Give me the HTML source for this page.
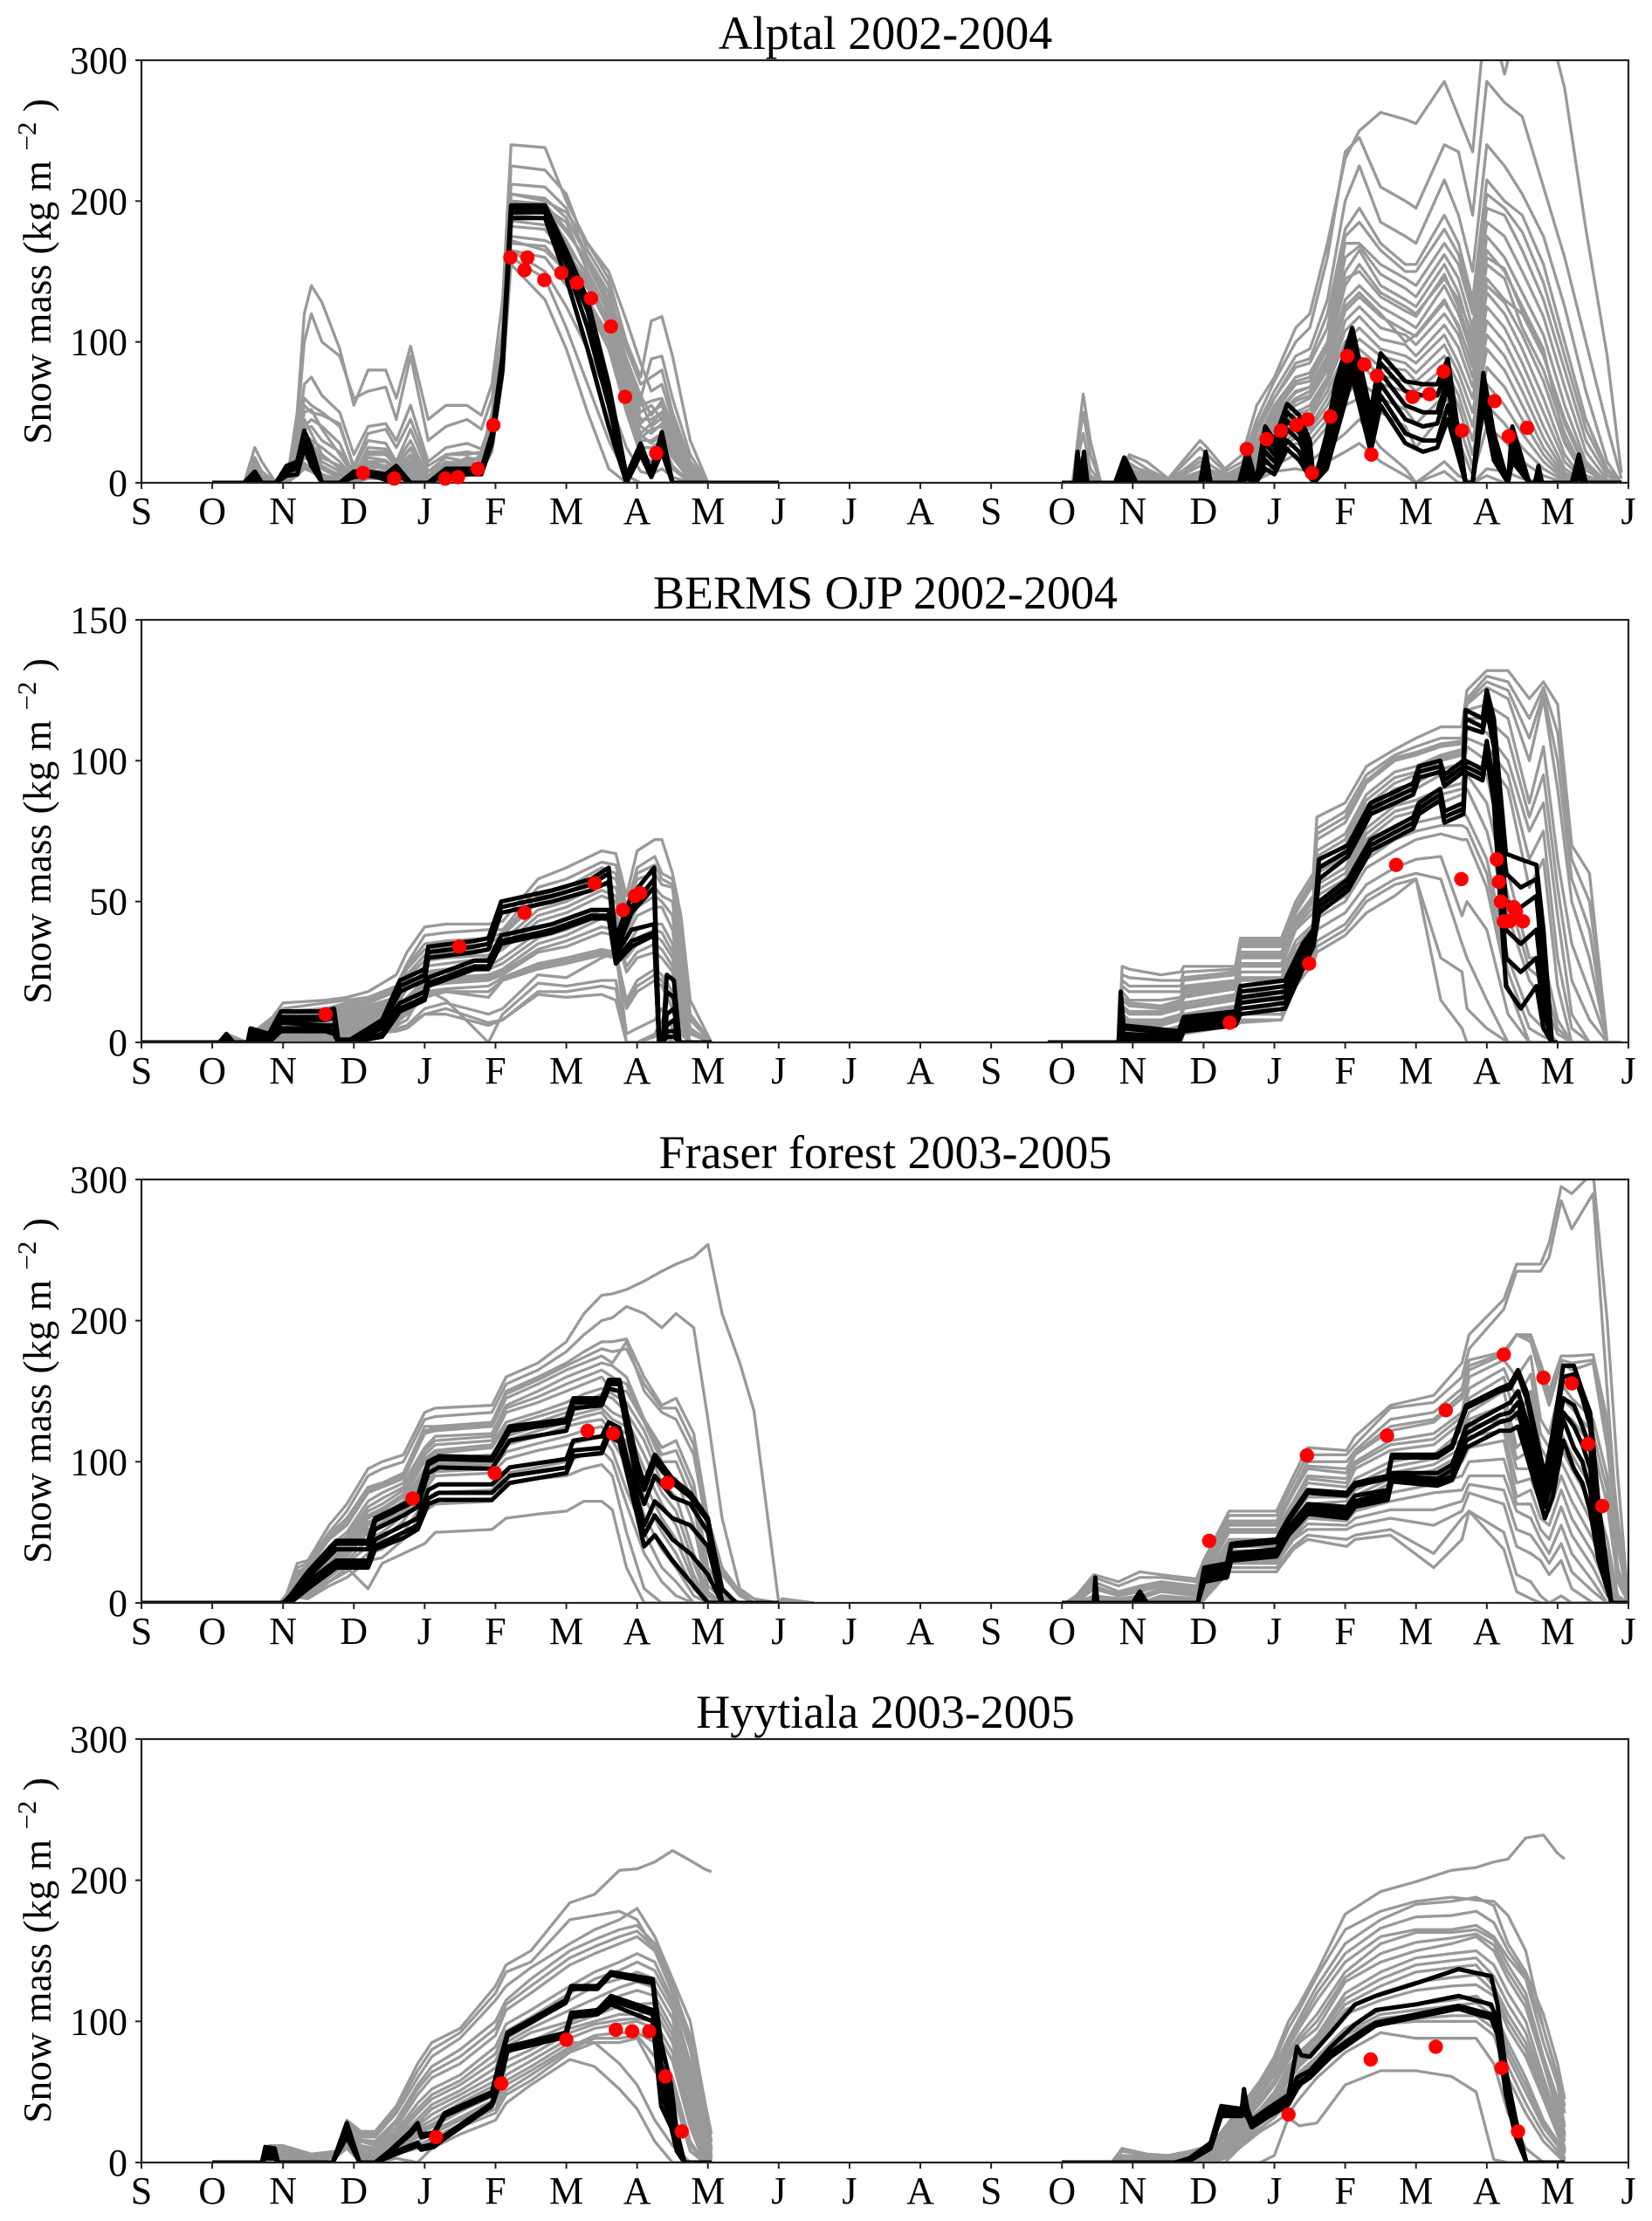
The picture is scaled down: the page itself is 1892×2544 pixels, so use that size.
<!DOCTYPE html>
<html lang="en">
<head>
<meta charset="utf-8">
<title>Snow mass ensemble simulations</title>
<style>
html,body{margin:0;padding:0;background:#fff;}
svg{display:block;}
text{font-family:"Liberation Serif",serif;fill:#000;}
.title{font-size:54px;text-anchor:middle;}
.ylab{font-size:45.5px;text-anchor:middle;}
.tick{font-size:44px;}
.g{fill:none;stroke:#999;stroke-width:3.3;stroke-linejoin:round;}
.b{fill:none;stroke:#000;stroke-width:5;stroke-linejoin:round;}
</style>
</head>
<body>
<svg id="chart" xmlns="http://www.w3.org/2000/svg" width="1892" height="2544" viewBox="0 0 1892 2544">
<rect width="1892" height="2544" fill="#fff"/>
<defs>
<clipPath id="clip0"><rect x="162" y="69" width="1703" height="484"/></clipPath>
<clipPath id="clip1"><rect x="162" y="710" width="1703" height="484"/></clipPath>
<clipPath id="clip2"><rect x="162" y="1351" width="1703" height="485"/></clipPath>
<clipPath id="clip3"><rect x="162" y="1992" width="1703" height="485"/></clipPath>
</defs>
<g id="panel0">
<text class="title" x="1014" y="56">Alptal 2002-2004</text>
<text class="ylab" transform="translate(58,311) rotate(-90)">Snow mass (kg m <tspan font-size="31" dy="-17">−2</tspan><tspan dy="17"> )</tspan></text>
</g>
<g id="panel1">
<text class="title" x="1014" y="697">BERMS OJP 2002-2004</text>
<text class="ylab" transform="translate(58,952) rotate(-90)">Snow mass (kg m <tspan font-size="31" dy="-17">−2</tspan><tspan dy="17"> )</tspan></text>
</g>
<g id="panel2">
<text class="title" x="1014" y="1338">Fraser forest 2003-2005</text>
<text class="ylab" transform="translate(58,1593) rotate(-90)">Snow mass (kg m <tspan font-size="31" dy="-17">−2</tspan><tspan dy="17"> )</tspan></text>
</g>
<g id="panel3">
<text class="title" x="1014" y="1979">Hyytiala 2003-2005</text>
<text class="ylab" transform="translate(58,2234) rotate(-90)">Snow mass (kg m <tspan font-size="31" dy="-17">−2</tspan><tspan dy="17"> )</tspan></text>
</g>
</svg>
<script>
const monthLabels=["S","O","N","D","J","F","M","A","M","J","J","A","S","O","N","D","J","F","M","A","M","J"];
const alptalTicks=[0,100,200,300];
const bermsTicks=[0,50,100,150];
const fraserTicks=[0,100,200,300];
const hyytialaTicks=[0,100,200,300];

/* ---------- Alptal ---------- */
const alptalW1Months=[1,1.45,1.6,1.7,1.9,2.05,2.2,2.3,2.4,2.55,2.8,3.0,3.2,3.45,3.6,3.8,4.05,4.3,4.6,4.8,4.95,5.1,5.22,5.7,6.0,6.3,6.6,6.85,7.05,7.2,7.35,7.5,7.75,8.0,9];
const alptalW1Gray=[
[0,0,25,15,0,0,50,120,140,128,95,55,80,80,60,97,45,55,55,48,70,130,240,238,200,170,145,100,75,115,118,90,30,0,0],
[0,0,18,8,0,0,40,100,120,100,90,60,65,68,45,90,30,40,45,38,60,110,225,222,205,165,140,85,60,88,90,60,20,0,0],
[0,0,12,3,0,0,30,60,55,50,40,12,35,38,25,45,12,20,22,20,50,100,205,202,188,160,130,80,55,58,60,40,10,0,0],
[0,0,5,0,0,0,25,55,50,48,42,10,30,28,15,38,8,18,15,18,42,95,200,198,180,155,125,75,45,45,50,35,5,0,0],
[0,0,0,0,0,0,20,40,45,40,28,5,25,24,12,25,5,15,12,20,38,90,198,195,185,150,120,70,40,35,42,28,3,0,0],
[0,0,0,0,0,0,15,35,30,25,15,3,18,16,10,20,2,14,14,18,35,85,195,192,172,145,115,60,30,30,35,20,0,0,0],
[0,0,0,0,0,5,15,30,25,15,8,0,12,10,5,12,0,10,10,15,30,80,170,168,150,130,105,55,25,25,30,12,0,0,0],
[0,0,0,0,0,3,10,25,20,10,3,0,8,8,3,8,0,8,10,12,28,80,165,160,140,125,95,50,20,15,25,10,0,0,0],
[0,0,0,0,0,0,8,18,15,6,0,0,5,5,0,4,0,5,8,10,22,75,155,130,95,50,10,0,0,0,0,0,0,0,0],
[0,0,0,0,0,0,5,10,8,3,0,0,3,3,0,2,0,3,5,8,22,78,160,145,110,70,30,5,0,0,0,0,0,0,0],
[0,0,0,0,0,0,22,50,52,38,20,5,22,22,14,30,4,20,20,22,45,100,200,198,170,130,100,60,35,42,50,28,8,0,0],
[0,0,0,0,0,0,12,28,22,12,5,0,10,12,6,15,0,12,12,15,32,88,190,188,165,140,110,65,32,38,40,22,5,0,0],
[0,0,0,0,0,0,18,45,35,20,10,2,15,15,8,18,2,10,18,16,36,92,175,172,165,142,112,72,42,50,55,32,5,0,0],
[0,0,0,0,0,0,10,22,12,5,2,0,6,6,2,5,0,6,8,12,25,82,182,180,160,138,118,78,50,55,45,25,3,0,0],
[0,0,15,5,0,0,28,70,75,62,50,20,40,42,30,55,15,25,28,24,45,105,212,210,195,160,135,95,70,75,80,50,15,0,0],
[0,0,8,2,0,2,18,38,40,30,22,8,20,20,12,24,4,14,16,18,40,95,205,200,192,170,150,115,85,65,70,45,12,0,0],
[0,0,3,0,0,0,14,30,28,18,12,3,14,12,8,14,2,12,12,15,34,90,198,196,178,158,128,88,62,48,58,34,6,0,0],
[0,0,2,0,0,0,9,20,18,10,6,1,9,8,4,10,0,8,10,14,30,85,186,183,168,148,122,82,58,40,46,26,4,0,0],
[0,0,0,0,0,0,7,14,10,6,2,0,5,5,2,6,0,6,8,12,26,82,172,165,150,128,100,62,34,28,34,18,2,0,0],
[0,0,0,0,0,0,6,12,8,4,0,0,4,4,1,4,0,4,6,10,24,80,165,150,125,95,60,25,8,6,10,4,0,0,0]
];
const alptalW1Black=[
[0,0,8,0,0,12,15,37,25,0,0,8,8,6,12,0,0,10,10,10,35,90,197,197,165,130,70,5,28,8,36,0,0,0,0],
[0,0,4,0,0,8,10,30,20,0,0,6,7,4,10,0,0,8,8,8,30,85,192,192,155,110,55,0,25,6,28,0,0,0,0],
[0,0,2,0,0,5,6,25,12,0,0,4,5,3,8,0,0,6,6,6,28,80,188,188,145,95,40,0,20,4,22,0,0,0,0],
[0,0,6,0,0,10,12,33,18,0,0,5,6,2,6,0,0,9,9,9,32,88,195,195,160,122,62,0,24,7,30,0,0,0,0]
];
const alptalW2Months=[13,13.15,13.3,13.4,13.55,13.8,13.95,14.2,14.5,14.95,15.05,15.3,15.55,15.75,16.0,16.3,16.5,16.75,17.0,17.2,17.5,17.85,18.0,18.4,18.6,18.8,19.0,19.25,19.5,19.8,20.1,20.4,20.7,20.9];
const alptalW2Gray=[
[0,0,63,30,0,0,20,15,3,30,25,10,20,55,75,110,120,170,230,250,263,258,255,285,260,235,340,290,340,340,280,180,90,7],
[0,0,50,20,0,0,18,10,2,25,20,8,15,45,72,100,110,160,235,245,210,200,195,240,235,190,285,270,260,210,160,100,40,3],
[0,0,35,10,0,0,14,6,0,15,10,5,12,40,65,90,95,130,200,225,185,175,170,215,190,150,240,225,205,175,125,65,15,0],
[0,0,12,3,0,0,10,5,0,12,8,3,10,38,60,85,88,120,180,195,170,155,155,190,170,130,215,200,190,155,100,45,10,0],
[0,0,8,0,0,0,8,3,0,8,5,2,8,30,55,75,78,100,170,170,155,145,140,170,155,120,195,190,165,130,80,30,5,0],
[0,0,5,0,0,0,5,2,0,5,3,0,5,28,50,70,72,95,150,165,140,130,125,155,135,100,175,160,135,105,55,15,0,0],
[0,0,3,0,0,0,3,0,0,3,2,0,4,25,45,60,65,85,130,140,125,115,110,140,120,90,155,145,110,80,35,5,0,0],
[0,0,0,0,0,0,2,0,0,0,0,0,3,22,40,50,55,75,115,125,110,105,98,120,105,75,135,120,95,60,20,0,0,0],
[0,0,0,0,0,0,0,0,0,0,0,0,2,20,35,45,48,70,100,110,95,90,85,105,85,60,115,100,75,40,10,0,0,0],
[0,0,0,0,0,0,0,0,0,0,0,0,0,15,30,40,40,60,85,95,82,80,72,90,70,40,95,80,55,25,5,0,0,0],
[0,0,0,0,0,0,0,0,0,0,0,0,0,10,25,35,35,50,70,85,70,65,58,75,55,20,70,55,35,15,2,0,0,0],
[0,0,0,0,0,0,0,0,0,0,0,0,0,5,20,28,25,40,55,60,50,40,25,50,30,5,40,30,15,5,0,0,0,0],
[0,0,0,0,0,0,0,0,0,0,0,0,0,3,12,20,15,25,35,45,25,10,0,15,5,0,10,8,3,0,0,0,0,0],
[0,0,0,0,0,0,0,0,0,0,0,0,0,2,8,10,8,15,22,28,15,5,0,8,0,0,5,0,0,0,0,0,0,0],
[0,0,3,0,0,0,6,0,0,3,0,0,0,18,42,55,60,80,125,135,120,100,105,130,110,85,145,130,120,90,45,12,0,0],
[0,0,0,0,0,0,4,0,0,6,2,0,6,25,48,65,68,90,140,155,135,125,120,145,130,105,165,150,125,95,30,3,0,0],
[0,0,20,5,0,0,12,8,1,18,14,6,10,35,60,82,85,110,175,185,165,150,150,180,162,125,205,195,178,142,90,38,8,0],
[0,0,4,0,0,0,7,3,0,6,4,1,7,28,52,72,75,98,160,168,148,138,132,162,145,110,185,175,150,118,68,22,2,0],
[0,0,2,0,0,0,4,1,0,4,2,0,5,26,47,64,68,88,145,150,132,122,118,148,125,95,160,152,122,92,42,9,0,0],
[0,0,0,0,0,0,2,0,0,2,0,0,3,24,43,58,62,82,122,132,118,108,104,128,112,82,140,128,105,72,28,3,0,0],
[0,0,0,0,0,0,1,0,0,0,0,0,2,21,38,48,52,72,108,118,102,98,90,112,96,68,125,110,85,50,15,0,0,0],
[0,0,0,0,0,0,0,0,0,0,0,0,1,18,33,42,45,65,92,102,90,85,78,98,78,50,105,90,65,32,7,0,0,0],
[0,0,0,0,0,0,0,0,0,0,0,0,0,12,28,38,38,55,78,90,76,72,65,82,62,30,82,68,45,20,3,0,0,0],
[0,0,0,0,0,0,0,0,0,0,0,0,0,8,22,32,30,45,62,72,60,52,42,62,42,12,55,42,25,10,1,0,0,0]
];
const alptalW2BlackMonths=[13,13.18,13.22,13.27,13.31,13.36,13.75,13.88,14.05,14.95,15.03,15.1,15.5,15.62,15.74,15.87,16,16.18,16.35,16.5,16.56,16.74,16.86,17.1,17.36,17.5,17.85,18.1,18.3,18.45,18.7,18.8,18.95,19.1,19.3,19.36,19.6,19.68,19.73,19.78,20.2,20.3,20.4,20.9];
const alptalW2Black=[
[0,0,22,0,22,0,0,18,0,0,22,0,0,23,0,40,30,56,48,30,0,35,70,110,50,92,72,70,70,88,0,0,78,35,0,40,0,0,12,0,0,20,0,0],
[0,0,18,0,18,0,0,14,0,0,18,0,0,18,0,35,25,50,42,25,0,30,62,105,40,85,65,62,62,82,0,0,74,30,0,36,0,0,9,0,0,16,0,0],
[0,0,14,0,14,0,0,10,0,0,14,0,0,14,0,28,20,44,36,18,0,25,55,98,36,78,55,50,50,75,0,0,70,28,0,30,0,0,7,0,0,12,0,0],
[0,0,10,0,10,0,0,7,0,0,10,0,0,10,0,22,15,38,30,12,0,20,48,90,30,70,45,40,42,68,0,0,66,24,0,26,0,0,5,0,0,10,0,0],
[0,0,6,0,6,0,0,4,0,0,6,0,0,6,0,16,10,30,22,8,0,15,40,82,26,62,35,30,30,55,0,0,60,20,0,20,0,0,3,0,0,6,0,0],
[0,0,3,0,3,0,0,2,0,0,3,0,0,3,0,10,6,24,16,4,0,10,32,75,22,55,28,22,25,45,0,0,55,16,0,15,0,0,2,0,0,3,0,0]
];
const alptalObsMonths=[3.13,3.57,4.29,4.47,4.75,4.97,5.21,5.45,5.41,5.69,5.93,6.15,6.35,6.63,6.83,7.27,15.61,15.89,16.09,16.31,16.47,16.53,16.79,17.03,17.27,17.45,17.37,17.95,18.19,18.39,18.65,19.11,19.31,19.57];
const alptalObsMass=[7,3,3,4,10,41,160,160,151,144,149,142,131,111,61,21,24,31,37,41,45,7,47,90,84,76,20,61,63,79,37,58,33,39];

/* ---------- BERMS OJP ---------- */
const bermsW1Months=[0,1.1,1.2,1.5,1.55,1.85,2,2.6,2.9,3.2,3.6,3.75,4,4.3,4.9,5.1,5.6,6,6.5,6.7,6.85,7,7.25,7.35,7.5,7.62,7.75,8.05];
const bermsW1Gray=[
[0,0,3,0,3,9,14,15,16,18,24,32,41,42,42,43,58,62,68,67,52,68,72,72,60,45,15,0],
[0,0,2,0,2,8,12,14,15,16,20,28,38,39,40,40,55,58,64,63,48,62,66,60,58,40,10,0],
[0,0,0,0,0,7,11,12,13,14,18,26,33,34,35,38,50,53,60,58,46,58,60,56,55,30,8,0],
[0,0,0,0,0,6,10,11,12,13,16,24,31,32,33,36,47,50,56,55,42,52,55,52,50,25,5,0],
[0,0,0,0,0,4,8,9,10,12,15,22,27,28,30,33,43,46,52,50,38,45,48,48,40,20,3,0],
[0,0,0,0,0,3,6,8,9,11,14,20,25,26,27,30,39,42,47,46,34,40,42,42,35,15,0,0],
[0,0,0,0,0,2,5,7,8,9,12,16,22,23,24,26,35,38,44,42,30,35,38,36,30,10,0,0],
[0,0,0,0,0,1,4,5,6,7,10,14,20,21,22,24,32,34,39,38,25,30,32,30,25,8,0,0],
[0,0,0,0,0,0,3,4,5,6,9,12,18,19,20,23,28,30,33,32,15,22,26,24,18,5,0,0],
[0,0,0,0,0,0,2,3,4,5,7,10,16,18,16,22,26,28,31,30,12,18,22,20,12,0,0,0],
[0,0,0,0,0,0,1,3,4,5,6,8,19,15,0,10,21,20,22,22,0,0,3,8,0,0,0,0],
[0,0,0,0,0,0,1,2,3,4,5,6,10,12,7,8,18,18,20,19,0,0,2,3,0,0,0,0],
[0,0,0,0,0,0,0,1,2,3,4,5,10,10,6,8,17,16,17,15,0,0,0,0,0,0,0,0],
[0,0,0,0,0,0,0,0,2,3,4,6,12,14,10,12,24,23,30,32,3,5,8,12,5,0,0,0],
[0,0,1,0,1,7,11,12,14,15,19,27,35,36,37,39,52,55,62,60,47,60,63,58,56,35,9,0],
[0,0,0,0,0,5,9,10,11,12,15,23,29,30,31,34,45,48,54,52,40,48,52,50,45,22,4,0],
[0,0,0,0,0,3,7,8,9,10,13,19,24,25,26,28,37,40,45,44,32,37,40,39,32,12,0,0],
[0,0,0,0,0,2,4,6,7,8,11,15,21,22,23,25,33,36,41,40,27,32,35,33,27,9,0,0],
[0,0,0,0,0,0,2,3,4,5,8,11,17,18,18,22,27,29,32,31,13,20,24,22,15,3,0,0]
];
const bermsW1BlackMonths=[0,1.1,1.2,1.3,1.5,1.54,1.8,1.97,2.6,2.72,2.78,2.95,3.4,3.65,4.0,4.05,4.7,4.9,5.08,5.8,6.35,6.6,6.7,6.92,7.24,7.31,7.36,7.42,7.52,7.6,8.05];
const bermsW1Black=[
[0,0,3,0,0,5,3,11,11,12,1,1,8,22,26,34,36,37,50,54,58,62,37,52,62,0,0,24,22,0,0],
[0,0,2,0,0,4,2,9,9,10,0,0,7,20,24,32,34,35,48,52,56,60,34,48,58,0,0,18,16,0,0],
[0,0,0,0,0,3,1,8,8,9,0,0,6,18,22,30,32,33,46,50,54,57,32,46,55,0,0,10,12,0,0],
[0,0,2,0,0,3,1,7,6,6,0,0,5,14,18,23,29,29,38,42,47,47,31,40,42,0,0,6,8,0,0],
[0,0,0,0,0,2,0,5,5,4,0,0,3,12,16,21,27,27,36,40,45,45,29,36,39,0,0,4,4,0,0],
[0,0,0,0,0,1,0,4,4,3,0,0,2,11,15,20,26,26,35,39,44,44,28,34,38,0,0,2,2,0,0]
];
const bermsW2Months=[12.8,13.8,13.85,13.95,14.4,14.68,14.72,15.45,15.52,16.1,16.3,16.55,16.6,17.0,17.3,17.7,18.0,18.35,18.65,18.72,19.0,19.3,19.6,19.8,20.0,20.2,20.45,20.7,20.9];
const bermsW2Gray=[
[0,0,27,26,24,25,27,27,37,37,50,60,80,85,98,104,108,112,112,125,132,132,122,128,120,70,60,0,0],
[0,0,24,23,22,22,25,26,36,36,48,58,76,82,95,102,105,108,108,122,130,128,115,126,110,65,50,0,0],
[0,0,20,18,18,18,22,24,34,34,46,56,72,78,92,100,102,105,106,120,126,122,100,122,90,50,30,0,0],
[0,0,18,15,15,16,20,22,32,32,44,52,68,74,88,96,98,102,104,118,120,115,85,105,65,35,18,0,0],
[0,0,15,13,12,14,18,20,30,30,42,50,64,70,84,92,95,100,102,112,110,100,75,85,45,10,0,0,0],
[0,0,12,10,10,12,16,19,27,27,40,46,60,66,80,88,90,95,96,105,100,90,55,65,20,0,0,0,0],
[0,0,10,8,8,10,14,17,25,25,36,42,56,62,76,84,86,90,92,100,95,60,30,30,8,0,0,0,0],
[0,0,8,6,6,8,12,15,22,22,32,40,52,58,72,80,82,85,88,90,75,45,22,15,3,0,0,0,0],
[0,0,6,4,4,6,10,13,18,18,28,38,48,54,68,75,78,80,82,80,65,30,10,5,0,0,0,0,0],
[0,0,4,2,2,5,8,12,15,15,26,36,44,50,62,68,72,74,72,72,55,20,0,0,0,0,0,0,0],
[0,0,3,1,1,3,6,10,12,12,24,34,40,46,56,62,65,66,45,50,40,10,0,0,0,0,0,0,0],
[0,0,2,0,0,2,5,8,10,10,22,32,36,42,52,58,60,58,35,30,15,0,0,0,0,0,0,0,0],
[0,0,1,0,0,1,4,7,8,8,22,30,34,40,50,56,58,30,25,12,5,0,0,0,0,0,0,0,0],
[0,0,0,0,0,0,3,6,7,8,20,28,32,38,46,52,58,15,5,0,0,0,0,0,0,0,0,0,0],
[0,0,22,20,20,20,23,25,35,35,47,57,74,80,93,101,103,106,107,121,128,125,108,124,100,58,40,0,0],
[0,0,16,14,13,15,19,21,31,31,43,51,66,72,86,94,96,101,103,115,115,108,80,95,55,22,8,0,0],
[0,0,13,11,11,13,17,19,28,28,41,48,62,68,82,90,92,97,99,108,105,95,65,75,30,5,0,0,0],
[0,0,9,7,7,9,13,16,23,23,34,41,54,60,74,82,84,88,90,95,85,52,26,22,5,0,0,0,0],
[0,0,5,3,3,5,9,12,16,16,27,37,46,52,65,72,75,77,77,76,60,25,5,2,0,0,0,0,0]
];
const bermsW2BlackMonths=[12.8,13.8,13.83,13.87,14.65,14.72,15.45,15.52,16.15,16.4,16.55,16.63,17.04,17.36,17.96,18.04,18.34,18.4,18.67,18.7,18.94,19,19.1,19.27,19.48,19.7,19.8,19.92,20.0];
const bermsW2Black=[
[0,0,18,6,4,9,11,20,22,35,40,65,70,85,92,98,100,95,100,118,115,125,115,67,65,63,40,0,0],
[0,0,12,5,3,8,10,18,20,33,38,62,68,83,90,96,98,93,98,115,112,122,110,60,55,58,35,0,0],
[0,0,8,3,2,7,9,16,18,31,37,58,66,81,88,94,96,91,96,112,110,118,105,50,48,52,25,0,0],
[0,0,6,2,1,6,8,14,16,30,37,50,58,72,80,85,90,82,85,100,97,107,92,40,35,40,18,0,0],
[0,0,4,1,0,5,7,12,14,28,35,48,56,70,78,83,88,80,83,98,95,104,88,30,25,30,12,0,0],
[0,0,2,0,0,4,6,10,12,26,34,46,54,68,76,81,86,78,81,96,93,102,85,20,12,20,5,0,0]
];
const bermsObsMonths=[2.6,4.49,5.41,6.4,6.8,6.97,7.04,15.37,16.49,17.72,18.64,19.14,19.17,19.2,19.24,19.38,19.41,19.32,19.51];
const bermsObsMass=[10,34,46,56.5,47,52,53,7,28,63,58,65,57,50,43,48,46.5,43,43];

/* ---------- Fraser forest ---------- */
const fraserW1Months=[0,1.95,2.05,2.2,2.35,2.65,2.9,3.2,3.4,3.7,4.0,4.15,4.95,5.15,5.6,6.0,6.25,6.5,6.65,6.85,7.1,7.35,7.55,7.8,8.0,8.2,8.45,8.65,9.0,9.05,9.5];
const fraserW1Gray=[
[0,0,6,28,30,55,70,95,100,105,135,138,140,160,170,185,205,218,219,222,228,235,240,245,254,205,170,136,0,3,0],
[0,0,5,25,28,50,65,90,95,100,130,132,135,155,165,178,190,200,202,210,205,195,205,195,130,60,10,3,0,2,0],
[0,0,4,22,26,48,60,82,85,92,125,125,128,150,160,170,178,185,185,187,160,140,145,120,60,25,8,0,0,0,0],
[0,0,3,20,24,45,55,78,82,88,120,122,125,145,155,165,170,175,170,185,150,135,130,105,50,20,5,0,0,0,0],
[0,0,2,18,22,40,50,72,78,85,110,118,120,140,150,160,165,170,168,160,130,110,115,85,25,8,0,0,0,0,0],
[0,0,1,15,20,35,45,65,70,80,105,112,115,135,142,150,155,160,150,150,128,100,100,70,12,3,0,0,0,0,0],
[0,0,0,12,15,30,42,60,65,75,100,106,110,125,132,138,142,148,145,135,115,85,75,35,5,0,0,0,0,0,0],
[0,0,0,10,12,25,38,55,60,70,92,100,102,118,125,132,135,138,130,125,95,70,55,20,0,0,0,0,0,0,0],
[0,0,0,8,8,22,33,50,55,65,88,96,98,112,118,125,128,130,120,115,75,50,35,10,0,0,0,0,0,0,0],
[0,0,0,6,6,18,28,40,45,58,80,90,92,102,108,112,115,118,108,80,50,25,15,0,0,0,0,0,0,0,0],
[0,0,0,5,4,15,22,35,38,50,72,78,80,92,96,100,105,108,100,70,35,15,5,0,0,0,0,0,0,0,0],
[0,0,0,4,3,12,18,30,32,45,65,70,72,85,88,90,95,98,90,50,10,0,0,0,0,0,0,0,0,0,0],
[0,0,0,3,10,15,25,10,28,35,42,50,52,60,63,65,72,72,66,25,0,0,0,0,0,0,0,0,0,0,0],
[0,0,3,21,25,46,57,80,84,90,122,124,126,148,158,168,174,180,178,180,155,138,138,112,55,22,6,0,0,0,0],
[0,0,1,16,21,38,47,68,74,82,108,115,118,138,146,155,160,165,160,155,130,105,108,78,18,5,0,0,0,0,0],
[0,0,0,13,17,32,43,62,67,77,102,108,112,128,135,142,148,152,148,142,122,92,88,55,8,0,0,0,0,0,0],
[0,0,0,11,14,27,40,57,62,72,95,102,105,120,128,135,138,142,135,130,105,78,65,28,2,0,0,0,0,0,0],
[0,0,0,9,10,24,35,52,57,68,90,98,100,115,122,128,132,135,125,120,85,60,45,15,0,0,0,0,0,0,0],
[0,0,0,7,7,20,30,45,50,62,84,93,95,107,113,118,122,125,115,98,62,38,25,5,0,0,0,0,0,0,0]
];
const fraserW1BlackMonths=[0,2.0,2.1,2.35,2.75,3.2,3.3,3.7,3.9,4.05,4.2,4.95,5.2,6.0,6.1,6.5,6.6,6.75,7.0,7.1,7.25,7.5,7.75,8.0,8.2,8.4,9];
const fraserW1Black=[
[0,0,5,22,44,44,60,70,75,100,104,103,125,130,145,145,158,158,100,85,105,88,78,60,0,0,0],
[0,0,4,20,42,42,58,68,73,98,102,101,122,128,142,142,155,155,95,80,100,85,75,58,10,0,0],
[0,0,3,18,38,38,52,62,68,92,96,95,115,122,138,140,152,150,85,70,90,75,70,50,0,0,0],
[0,0,2,15,30,30,45,55,60,80,84,84,96,102,115,118,128,124,75,55,72,60,55,40,0,0,0],
[0,0,1,12,27,27,40,50,55,74,78,78,90,96,108,110,122,118,68,48,62,45,35,20,0,0,0],
[0,0,0,10,25,25,38,46,52,70,73,73,85,92,104,106,118,114,62,40,48,30,15,0,0,0,0]
];
const fraserW2Months=[13.05,13.2,13.45,13.8,14.1,14.4,14.9,15.0,15.36,16.03,16.27,16.47,17.02,17.14,17.64,18.25,18.65,18.75,19.24,19.42,19.62,19.76,19.88,20.05,20.2,20.5,20.7,20.85,21];
const fraserW2Gray=[
[0,5,20,15,22,20,17,30,65,65,90,110,108,118,140,147,170,190,215,240,240,240,255,295,290,305,200,90,0],
[0,3,18,12,18,18,15,28,62,62,85,105,105,112,138,142,160,180,208,235,235,235,245,285,265,290,150,50,0],
[0,2,15,8,12,15,12,25,58,58,80,100,100,108,130,135,152,172,178,190,190,170,150,175,175,176,130,60,0],
[0,0,10,5,8,12,10,22,55,55,78,95,92,105,122,128,145,165,176,190,185,160,140,170,165,170,110,40,0],
[0,0,5,3,5,10,8,20,52,52,72,90,88,100,115,120,135,160,172,160,175,130,120,155,145,130,90,25,0],
[0,0,3,0,3,8,5,18,50,50,70,85,82,95,108,112,128,145,160,130,150,110,100,135,130,110,70,15,0],
[0,0,0,0,0,5,3,15,45,45,65,80,78,88,100,105,122,135,150,110,120,100,85,120,105,80,45,5,0],
[0,0,0,0,0,3,2,12,40,40,60,70,72,80,92,98,110,125,130,95,95,80,75,100,85,55,25,0,0],
[0,0,0,0,0,0,0,10,35,35,55,65,65,72,85,90,100,110,115,75,80,60,55,80,60,35,10,0,0],
[0,0,0,0,0,0,0,8,32,32,48,60,58,65,72,78,80,90,90,65,60,45,35,55,35,15,0,0,0],
[0,0,0,0,0,0,0,5,28,28,45,52,52,55,60,55,65,78,70,40,35,30,20,30,10,0,0,0,0],
[0,0,0,0,0,0,0,3,25,25,40,48,45,48,52,35,60,65,50,20,15,5,0,5,0,0,0,0,0],
[0,0,0,0,0,0,0,2,22,22,38,45,40,45,48,25,45,65,38,8,3,0,0,0,0,0,0,0,0],
[0,1,12,6,10,13,11,23,56,56,79,97,95,106,125,130,148,168,177,190,188,165,145,172,170,172,120,50,0],
[0,0,4,2,4,9,6,19,51,51,71,88,85,98,112,116,132,152,166,145,162,120,110,145,138,120,80,20,0],
[0,0,0,0,0,4,2,14,42,42,62,75,75,84,96,102,116,130,140,102,108,90,80,110,95,68,35,3,0],
[0,0,0,0,0,1,1,11,37,37,58,68,68,76,88,94,105,118,122,85,88,70,65,90,72,45,18,0,0],
[0,0,0,0,0,0,0,9,33,33,52,62,62,68,78,84,90,100,102,70,70,52,45,68,48,25,5,0,0],
[0,0,0,0,0,0,0,6,30,30,46,56,55,60,66,66,72,84,80,52,48,38,28,42,22,8,0,0,0]
];
const fraserW2BlackMonths=[13,13.45,13.47,13.5,14.0,14.1,14.2,14.92,15.01,15.33,15.39,16.03,16.2,16.47,17.02,17.14,17.6,17.66,18.3,18.51,18.71,19.18,19.33,19.44,19.56,19.82,19.93,20.08,20.23,20.35,20.46,20.58,20.76,21];
const fraserW2Black=[
[0,0,18,0,0,8,0,0,25,28,42,45,60,80,78,85,90,105,105,112,140,152,155,165,150,90,120,168,168,150,135,70,0,0],
[0,0,12,0,0,6,0,0,24,26,40,43,58,78,76,83,88,103,103,110,138,150,152,162,145,85,115,160,162,145,125,60,0,0],
[0,0,5,0,0,3,0,0,22,24,35,38,53,70,68,76,80,92,92,98,125,138,142,150,130,78,100,145,140,125,110,50,0,0],
[0,0,2,0,0,1,0,0,20,22,33,36,51,67,65,72,78,90,88,94,120,133,135,142,122,72,95,135,125,112,95,45,0,0],
[0,0,0,0,0,0,0,0,18,20,32,35,50,65,62,70,75,88,85,90,115,128,130,135,115,68,88,130,110,100,80,40,0,0],
[0,0,0,0,0,0,0,0,15,18,30,33,48,63,60,68,73,86,83,87,110,122,122,125,105,60,75,115,95,85,65,30,0,0]
];
const fraserObsMonths=[3.83,4.99,6.3,6.66,7.43,15.08,16.46,17.59,18.42,19.24,19.8,20.2,20.43,20.63];
const fraserObsMass=[74,92,122,120,85,44,104.5,118.6,136.5,176,159.5,155.5,112.6,68.6];

/* ---------- Hyytiala ---------- */
const hyytialaW1Months=[1,1.75,1.8,2.0,2.4,2.75,2.9,3.1,3.3,3.6,3.9,4.1,4.5,5.0,5.15,5.5,6.05,6.4,6.75,7.0,7.25,7.5,7.75,7.95,8.05];
const hyytialaW1Gray=[
[0,0,10,10,5,8,30,22,22,40,70,85,95,125,140,150,184,190,207,208,213,221,214,208,206],
[0,0,12,12,6,8,28,20,20,38,65,80,92,120,135,142,172,175,178,172,150,125,90,40,15],
[0,0,11,10,5,8,27,18,18,35,60,75,88,115,125,138,155,165,172,180,160,130,100,45,20],
[0,0,10,9,5,8,26,16,15,30,55,68,80,100,115,130,150,158,165,168,155,128,85,40,10],
[0,0,9,8,4,7,25,15,12,25,48,60,70,90,108,120,140,148,155,160,150,120,80,30,8],
[0,0,8,7,4,7,24,12,10,22,42,52,62,82,98,108,125,135,142,148,142,115,70,25,5],
[0,0,7,6,3,6,22,10,8,18,35,45,55,72,88,98,115,125,130,135,130,108,55,18,3],
[0,0,6,5,3,6,20,8,5,14,28,38,48,62,82,92,100,108,118,122,118,95,45,12,0],
[0,0,5,4,2,6,18,5,3,12,24,30,42,55,72,80,95,100,105,105,108,85,35,5,0],
[0,0,4,3,2,5,16,3,2,10,20,25,36,48,62,72,88,95,98,100,95,72,25,0,0],
[0,0,3,2,1,5,14,2,0,8,15,20,30,42,55,65,82,90,92,92,85,60,15,0,0],
[0,0,2,1,0,5,12,0,0,6,10,15,25,35,48,58,78,85,85,88,65,50,8,0,0],
[0,0,1,0,0,4,10,0,0,3,0,10,20,30,42,55,73,68,52,38,15,0,0,0,0],
[0,0,5,3,2,5,17,3,0,8,18,22,32,45,58,68,85,85,70,55,30,12,0,0,0],
[0,0,9,8,5,7,26,15,14,28,52,64,75,95,112,125,145,153,160,164,152,124,82,35,9],
[0,0,7,6,4,6,23,11,9,20,38,48,58,77,93,103,120,130,136,142,136,112,62,22,4],
[0,0,5,5,3,6,21,9,6,16,31,41,51,67,85,95,108,116,124,128,124,102,50,15,2],
[0,0,4,4,2,5,19,6,4,13,26,34,45,58,77,86,98,104,111,112,113,90,40,8,0],
[0,0,3,3,2,5,17,4,2,11,22,27,39,52,67,76,92,98,101,102,100,78,30,3,0],
[0,0,2,2,1,5,13,1,0,7,12,17,27,38,51,62,80,88,88,90,75,55,12,0,0]
];
const hyytialaW1BlackMonths=[1,1.7,1.75,1.88,1.93,2.7,2.9,3.08,3.3,3.5,3.8,3.9,3.95,4.13,4.28,4.95,5.06,5.17,5.99,6.07,6.44,6.63,7.22,7.34,7.48,7.56,7.67,8.05];
const hyytialaW1Black=[
[0,0,11,10,0,0,28,0,0,8,22,28,20,21,35,50,72,92,115,125,125,135,130,85,55,22,0,0],
[0,0,8,8,0,0,25,0,0,7,20,26,18,20,33,48,68,90,113,123,123,133,127,70,45,18,0,0],
[0,0,6,6,0,0,23,0,0,6,12,14,11,13,19,42,60,82,92,106,108,118,108,60,35,15,0,0],
[0,0,4,5,0,0,20,0,0,5,11,13,10,12,18,41,58,80,90,104,106,115,105,50,30,12,0,0],
[0,0,3,3,0,0,18,0,0,4,10,12,9,11,17,40,56,79,89,103,105,112,100,40,25,8,0,0]
];
const hyytialaW2Months=[13,13.7,13.85,14.2,14.5,14.8,15.1,15.3,15.5,15.8,16.0,16.2,16.35,16.6,17.0,17.5,18.0,18.5,18.85,19.1,19.3,19.55,19.8,20.0,20.1];
const hyytialaW2Gray=[
[0,0,10,6,5,8,12,25,38,58,75,100,112,135,176,192,199,207,209,213,215,230,232,219,215],
[0,0,8,5,4,7,11,22,36,55,72,95,108,132,165,178,185,188,186,185,175,150,95,60,40],
[0,0,5,4,3,6,10,20,34,52,68,88,102,125,155,172,183,185,188,182,155,135,105,70,45],
[0,0,3,2,2,5,9,18,30,48,62,82,95,115,142,160,165,165,168,160,145,130,85,55,25],
[0,0,2,1,1,4,8,15,28,45,58,78,90,105,135,155,163,163,165,158,140,120,75,45,20],
[0,0,0,0,0,3,7,12,25,42,55,72,85,95,128,142,150,155,160,150,130,110,70,35,15],
[0,0,0,0,0,2,6,10,24,38,50,68,78,90,120,135,145,148,150,140,120,100,60,30,10],
[0,0,0,0,0,2,5,8,22,36,47,62,72,85,112,125,135,138,140,125,105,85,50,25,8],
[0,0,0,0,0,1,4,6,20,34,44,58,68,80,105,115,122,125,126,118,95,75,45,20,6],
[0,0,0,0,0,0,3,5,18,32,42,54,64,75,95,108,112,115,118,108,85,60,30,15,3],
[0,0,0,0,0,0,2,4,15,30,38,50,60,70,90,102,105,108,108,100,75,50,25,12,2],
[0,0,0,0,0,0,0,3,12,24,32,42,55,65,85,98,100,100,100,90,60,35,15,5,0],
[0,0,0,0,0,0,0,0,10,22,28,35,45,60,78,92,88,88,88,70,35,10,0,0,0],
[0,0,0,0,0,0,0,0,0,0,5,32,26,28,55,65,65,61,50,2,0,0,0,0,0],
[0,0,4,3,2,5,9,19,32,50,65,85,98,120,148,166,174,175,178,170,150,132,95,62,35],
[0,0,1,1,0,4,7,13,26,43,56,75,87,100,131,148,156,159,162,154,135,115,72,40,18],
[0,0,0,0,0,2,5,9,23,37,48,65,75,88,116,130,140,143,145,132,112,92,55,28,9],
[0,0,0,0,0,1,4,7,21,35,45,60,70,82,108,120,128,131,133,121,100,80,48,22,7],
[0,0,0,0,0,0,3,5,17,31,40,52,62,72,92,105,108,111,113,104,80,55,28,14,3],
[0,0,0,0,0,0,1,3,13,27,35,46,57,67,87,100,102,104,104,95,68,42,20,8,1]
];
const hyytialaW2BlackMonths=[13,14.6,14.8,15.1,15.25,15.54,15.57,15.62,15.68,15.9,16.2,16.32,16.38,16.5,16.8,17.14,17.43,18,18.6,19.06,19.15,19.27,19.41,19.56,20.1];
const hyytialaW2Black=[
[0,0,3,14,40,38,52,38,30,38,48,82,76,75,92,112,118,127,137,132,112,65,30,0,0],
[0,0,2,12,37,36,42,36,28,36,46,60,62,65,82,98,108,112,118,112,100,55,25,0,0],
[0,0,2,11,35,34,38,34,26,34,43,55,58,62,78,90,99,105,111,105,94,52,22,0,0],
[0,0,1,10,33,33,35,32,25,32,41,52,56,60,75,87,97,103,109,102,91,48,18,0,0]
];
const hyytialaObsMonths=[4.16,5.08,6.0,6.7,6.93,7.17,7.4,7.63,16.2,17.36,18.28,19.21,19.44];
const hyytialaObsMass=[18,56,87,94,93,93,61,22,34,73,82,67,22];

/* ---------- drawing ---------- */
const NS="http://www.w3.org/2000/svg";
const plotLeft=162, plotRight=1865, monthSpan=21;

function xScale(m){return plotLeft+(plotRight-plotLeft)*m/monthSpan;}
function yScaler(top,bottom,max){return function(v){return bottom-(bottom-top)*v/max;};}

function linePath(months,values,y){
  let d="";
  for(let i=0;i<values.length&&i<months.length;i++){
    d+=(i?"L":"M")+xScale(months[i]).toFixed(1)+" "+y(values[i]).toFixed(1);
  }
  return d;
}

function drawSeries(group,months,rows,y,cls,label){
  rows.forEach(function(values){
    const el=document.createElementNS(NS,"path");
    el.setAttribute("d",linePath(months,values,y));
    el.setAttribute("class",cls);
    
    
    group.appendChild(el);
  });
}

function drawObs(group,months,mass,y){
  months.forEach(function(m,i){
    const c=document.createElementNS(NS,"circle");
    c.setAttribute("cx",xScale(m).toFixed(1));
    c.setAttribute("cy",y(mass[i]).toFixed(1));
    c.setAttribute("r",8.2);
    c.setAttribute("fill","#f00");
    
    
    group.appendChild(c);
  });
}

function drawAxes(group,top,bottom,y,ticks){
  const frame=document.createElementNS(NS,"rect");
  frame.setAttribute("x",plotLeft);
  frame.setAttribute("y",top);
  frame.setAttribute("width",plotRight-plotLeft);
  frame.setAttribute("height",bottom-top);
  frame.setAttribute("fill","none");
  frame.setAttribute("stroke","#222");
  frame.setAttribute("stroke-width","2.2");
  
  
  group.appendChild(frame);
  monthLabels.forEach(function(lab,i){
    const t=document.createElementNS(NS,"line");
    t.setAttribute("x1",xScale(i));
    t.setAttribute("x2",xScale(i));
    t.setAttribute("y1",bottom);
    t.setAttribute("y2",bottom+7);
    t.setAttribute("stroke","#222");
    t.setAttribute("stroke-width","2");
    
    
    group.appendChild(t);
    const tx=document.createElementNS(NS,"text");
    tx.setAttribute("x",xScale(i));
    tx.setAttribute("y",bottom+47);
    tx.setAttribute("text-anchor","middle");
    tx.setAttribute("class","tick");
    
    
    tx.textContent=lab;
    group.appendChild(tx);
  });
  ticks.forEach(function(v){
    const t=document.createElementNS(NS,"line");
    t.setAttribute("x1",plotLeft-7);
    t.setAttribute("x2",plotLeft);
    t.setAttribute("y1",y(v));
    t.setAttribute("y2",y(v));
    t.setAttribute("stroke","#222");
    t.setAttribute("stroke-width","2");
    
    
    group.appendChild(t);
    const tx=document.createElementNS(NS,"text");
    tx.setAttribute("x",146);
    tx.setAttribute("y",y(v)+15);
    tx.setAttribute("text-anchor","end");
    tx.setAttribute("class","tick");
    
    
    tx.textContent=v;
    group.appendChild(tx);
  });
}

function drawPanel(index,top,bottom,ticks,runs,obsMonths,obsMass){
  const root=document.getElementById("panel"+index);
  const y=yScaler(top,bottom,ticks[ticks.length-1]);
  const plot=document.createElementNS(NS,"g");
  plot.setAttribute("clip-path","url(#clip"+index+")");
  
  
  root.appendChild(plot);
  runs.forEach(function(r){drawSeries(plot,r[0],r[1],y,"g","ensemble-run-line");});
  runs.forEach(function(r){drawSeries(plot,r[2],r[3],y,"b","selected-run-line");});
  drawAxes(root,top,bottom,y,ticks);
  const pts=document.createElementNS(NS,"g");
  
  
  root.appendChild(pts);
  drawObs(pts,obsMonths,obsMass,y);
}

drawPanel(0,69,553,alptalTicks,[
  [alptalW1Months,alptalW1Gray,alptalW1Months,alptalW1Black],
  [alptalW2Months,alptalW2Gray,alptalW2BlackMonths,alptalW2Black]
],alptalObsMonths,alptalObsMass);
drawPanel(1,710,1194,bermsTicks,[
  [bermsW1Months,bermsW1Gray,bermsW1BlackMonths,bermsW1Black],
  [bermsW2Months,bermsW2Gray,bermsW2BlackMonths,bermsW2Black]
],bermsObsMonths,bermsObsMass);
drawPanel(2,1351,1836,fraserTicks,[
  [fraserW1Months,fraserW1Gray,fraserW1BlackMonths,fraserW1Black],
  [fraserW2Months,fraserW2Gray,fraserW2BlackMonths,fraserW2Black]
],fraserObsMonths,fraserObsMass);
drawPanel(3,1992,2477,hyytialaTicks,[
  [hyytialaW1Months,hyytialaW1Gray,hyytialaW1BlackMonths,hyytialaW1Black],
  [hyytialaW2Months,hyytialaW2Gray,hyytialaW2BlackMonths,hyytialaW2Black]
],hyytialaObsMonths,hyytialaObsMass);
</script>
</body>
</html>
